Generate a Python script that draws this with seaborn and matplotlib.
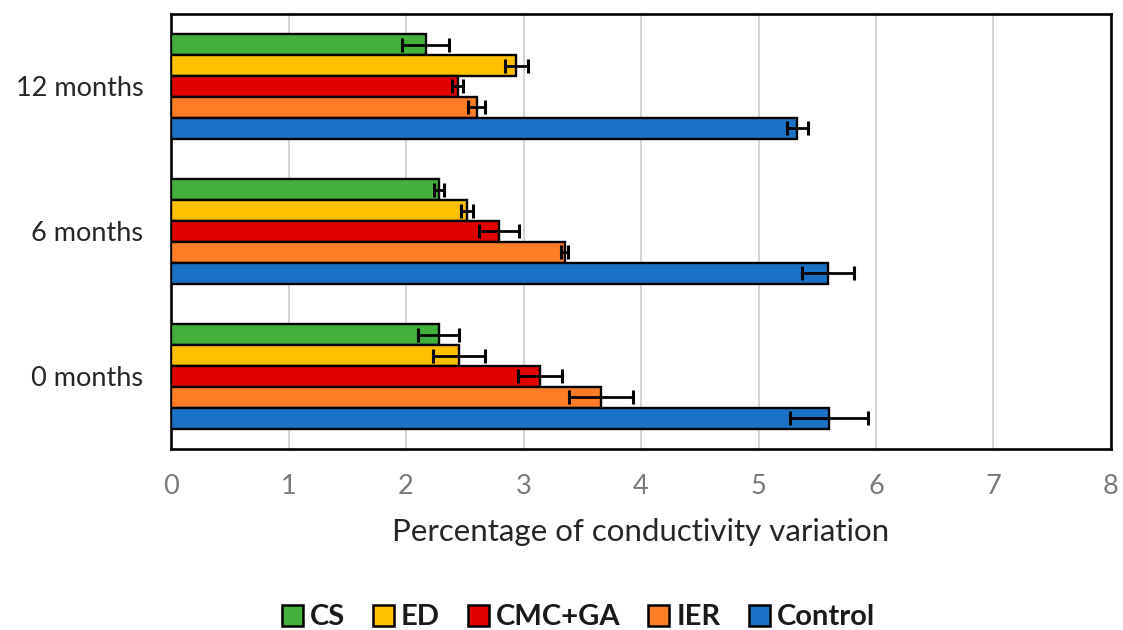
import numpy as np
import pandas as pd
import matplotlib
matplotlib.use("Agg")
import matplotlib.pyplot as plt
import seaborn as sns
from matplotlib.patches import Patch

# Storage periods and treatments
periods = ["12 months", "6 months", "0 months"]
treatments = ["CS", "ED", "CMC+GA", "IER", "Control"]

# Mean conductivity variation (%) per treatment, in the order of `periods`
cs_mean = [2.17, 2.28, 2.28]
ed_mean = [2.94, 2.52, 2.45]
cmc_mean = [2.44, 2.79, 3.14]
ier_mean = [2.60, 3.35, 3.66]
control_mean = [5.33, 5.59, 5.60]

# Standard deviations, same layout
cs_err = [0.20, 0.045, 0.175]
ed_err = [0.10, 0.05, 0.22]
cmc_err = [0.045, 0.17, 0.185]
ier_err = [0.075, 0.03, 0.27]
control_err = [0.09, 0.22, 0.33]

colors = ["#43B03C", "#FFC000", "#E00000", "#FD7E26", "#1A72C6"]

means = [cs_mean, ed_mean, cmc_mean, ier_mean, control_mean]
errs = [cs_err, ed_err, cmc_err, ier_err, control_err]

rows = []
for t, m, e in zip(treatments, means, errs):
    for p, v, s in zip(periods, m, e):
        rows.append({"period": p, "treatment": t, "value": v, "sd": s})
df = pd.DataFrame(rows)

sns.set_theme(style="white")
plt.rcParams["font.family"] = ["Lato", "DejaVu Sans"]

fig = plt.figure(figsize=(11.23, 6.30), dpi=100)
ax = fig.add_axes([0.1523, 0.2873, 0.8370, 0.6905])

sns.barplot(data=df, y="period", x="value", hue="treatment",
            order=periods, hue_order=treatments, palette=colors,
            orient="h", errorbar=None, width=0.72, dodge=True,
            edgecolor="black", linewidth=1.7, saturation=1.0,
            legend=False, ax=ax, zorder=3)

# Error bars at the end of each bar
for cont, t in zip(ax.containers, treatments):
    sub = df[df["treatment"] == t].set_index("period").loc[periods]
    ys = [b.get_y() + b.get_height() / 2 for b in cont]
    xs = [b.get_width() for b in cont]
    ax.errorbar(xs, ys, xerr=sub["sd"].values, fmt="none", ecolor="black",
                elinewidth=2.0, capsize=4.8, capthick=2.2, zorder=4)

ax.set_xlim(0, 8)
ax.set_ylim(2.5, -0.5)
ax.set_xticks(range(0, 9))
ax.grid(axis="x", color="#d4d4d4", linewidth=1.4, zorder=0)
ax.grid(axis="y", visible=False)
ax.set_axisbelow(True)

for sp in ax.spines.values():
    sp.set_visible(True)
    sp.set_color("black")
    sp.set_linewidth(1.9)

ax.tick_params(axis="x", length=0, pad=18, labelsize=19.5, labelcolor="#7a7a7a")
ax.tick_params(axis="y", length=0, pad=20, labelsize=19.5, labelcolor="#262626")
ax.set_ylabel("")
ax.set_xlabel("Percentage of conductivity variation", fontsize=22.5,
              color="#262626", labelpad=14)

handles = [Patch(facecolor=c, edgecolor="black", linewidth=1.8) for c in colors]
leg = fig.legend(handles, treatments, loc="center", bbox_to_anchor=(0.5150, 0.02),
                 ncol=5, frameon=False, handlelength=0.72, handleheight=0.72,
                 handletextpad=0.25, columnspacing=0.95,
                 prop={"weight": "bold", "size": 21})
for txt in leg.get_texts():
    txt.set_color("#1a1a1a")

fig.savefig("out.png", dpi=100)
